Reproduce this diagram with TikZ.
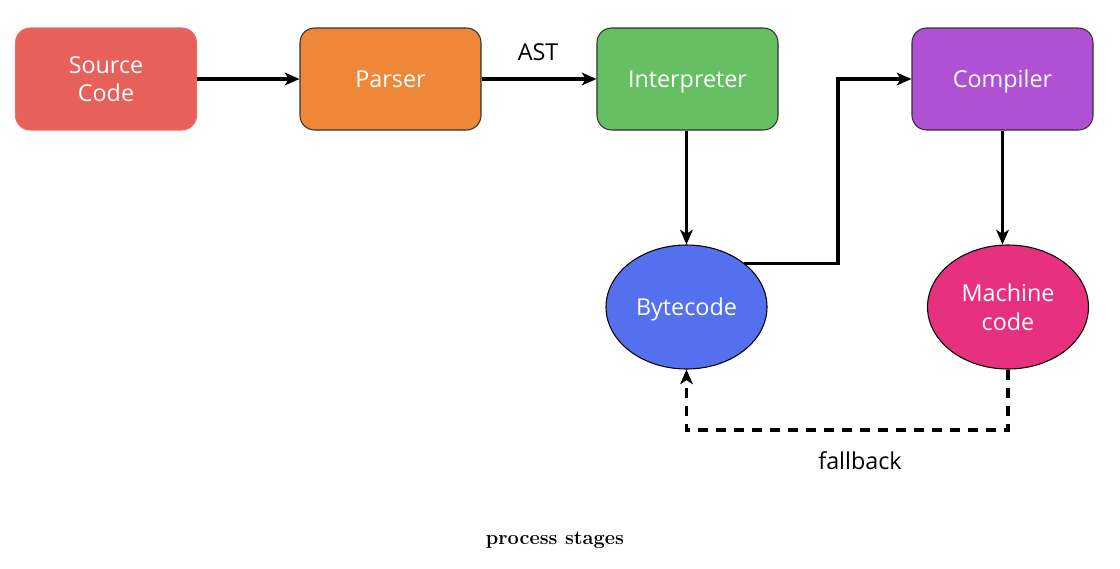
\documentclass[tikz,border=0pt]{standalone}
\usepackage{fontspec}
\setsansfont{Open Sans}
\usepackage{tikz}
\usetikzlibrary{positioning, arrows.meta, calc, shapes.geometric}

\definecolor{srcred}{HTML}{E8605A}
\definecolor{srcedge}{HTML}{EE6B66}
\definecolor{parsorange}{HTML}{EE8838}
\definecolor{interpgreen}{HTML}{67BF63}
\definecolor{comppurple}{HTML}{B050D5}
\definecolor{byteblue}{HTML}{5470EE}
\definecolor{machpink}{HTML}{E8317E}

\begin{document}
\begin{tikzpicture}[x=0.75pt,y=0.75pt,yscale=-1,xscale=1,
	stagebox/.style={rectangle, rounded corners=11pt, draw=black!80, line width=0.8pt,
		minimum width=135.75pt, minimum height=76.5pt, text=white, text depth=0pt,
		font=\sffamily\fontsize{17.5}{21.5}\selectfont, align=center},
	dataoval/.style={ellipse, draw=black, line width=0.8pt,
		minimum width=120.75pt, minimum height=93pt, inner sep=0pt, text=white, text depth=0pt,
		font=\sffamily\fontsize{17.5}{21.5}\selectfont, align=center},
	flow/.style={line width=2.3pt, -{Stealth[length=11pt, width=9.5pt, inset=3pt]}},
	fallback/.style={flow, dash pattern=on 7.5pt off 6pt},
	plain/.style={font=\sffamily\fontsize{17.5}{21.5}\selectfont}]
	\useasboundingbox (0,0) rectangle (1120,568);
	
	%Stages
	\node [stagebox, fill=srcred, draw=srcedge] (src) at (106,79) {Source\\Code};
	\node [stagebox, fill=parsorange] (pars) at (390.5,79) {Parser};
	\node [stagebox, fill=interpgreen] (interp) at (687.5,79) {Interpreter};
	\node [stagebox, fill=comppurple] (comp) at (1002.5,79) {Compiler};
	%Data
	\node [dataoval, fill=byteblue] (byte) at (686.5,307) {Bytecode};
	\node [dataoval, fill=machpink] (mach) at (1008,307) {Machine\\code};
	
	%Bends
	\coordinate (jit) at (838,79);
	\coordinate (loop) at (846,430);
	
	%Connectors
	\draw [flow] (src) -- (pars);
	\draw [flow] (pars) -- (interp);
	\draw [flow] (interp.south -| byte.north) -- (byte.north);
	\draw [flow] (byte.37) -| (jit) -- (comp.west);
	\draw [flow] (comp.south) -- (comp.south |- mach.north);
	\draw [fallback] (mach.south) |- (loop) -| (byte.south);
	
	% Text Node
	\node [plain] (ast) at (538,52) {AST};
	% Text Node
	\node [plain] (fb) at (860,461) {fallback};
	% Text Node
	\node [font=\bfseries\fontsize{15}{18}\selectfont] (cap) at (555,540) {process stages};
\end{tikzpicture}
\end{document}
